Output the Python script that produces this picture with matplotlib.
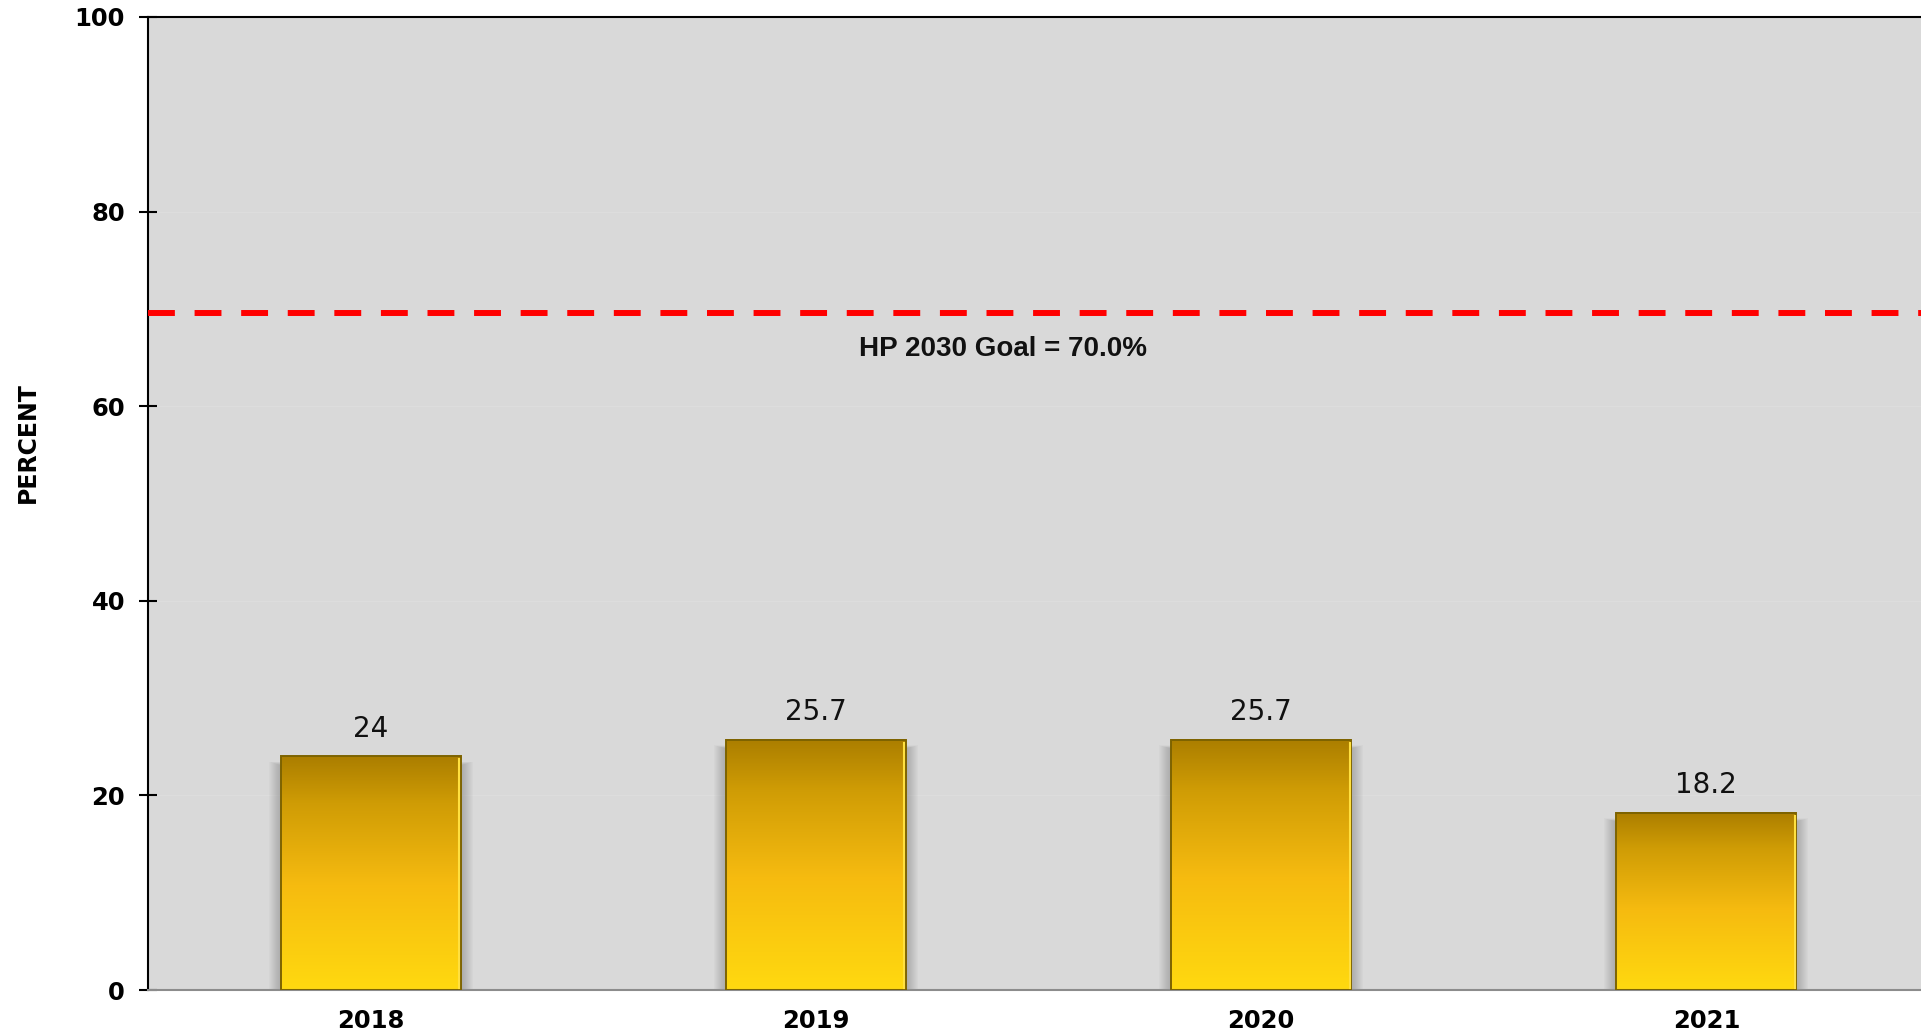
import numpy as np
import matplotlib
matplotlib.use("Agg")
import matplotlib.pyplot as plt
from matplotlib.colors import LinearSegmentedColormap
from matplotlib.patches import Rectangle

# chart data
years = ["2018", "2019", "2020", "2021"]
percents = [24, 25.7, 25.7, 18.2]
goal_value = 70.0
goal_line_y = 69.6   # where the dashed line sits in the picture

bar_width = 0.404

fig = plt.figure(figsize=(19.21, 10.36), dpi=100)
# axes run a little past the right edge of the image, like the original crop
ax = fig.add_axes([148 / 1921, 46 / 1036, (1929 - 148) / 1921, 973 / 1036])
ax.set_facecolor("#d9d9d9")

gold = LinearSegmentedColormap.from_list(
    "gold", [(0.0, "#ffd90f"), (0.45, "#f6bb10"), (0.8, "#cf9c05"), (1.0, "#ab7e00")])
grad = np.linspace(0, 1, 256).reshape(-1, 1)

px_x = 1 / 445.3      # one pixel in data units
px_y = 100 / 973

x = np.arange(len(years))
for xi, v in zip(x, percents):
    left = xi - bar_width / 2
    # soft grey shadow round the bar
    for e in range(12, 0, -1):
        ax.add_patch(Rectangle((left - e * px_x, 0), bar_width + 2 * e * px_x,
                               v - (9 - e * 0.3) * px_y, facecolor="#6e6e6e",
                               edgecolor="none", alpha=0.04, zorder=1.5))
    ax.imshow(grad, extent=[left, left + bar_width, 0, v], origin="lower",
              aspect="auto", cmap=gold, zorder=2, interpolation="bilinear")
    ax.add_patch(Rectangle((left, 0), bar_width, v, facecolor="none",
                           edgecolor="#7d6300", linewidth=1.4, zorder=3))
    # bright bevel on the right side
    ax.plot([left + bar_width - 1.5 * px_x] * 2, [0.2, v - 0.3], color="#ffe040",
            linewidth=1.5, zorder=3.5)
    ax.annotate(f"{v:g}", (xi, v), xytext=(0, 10), textcoords="offset points",
                ha="center", va="bottom", fontsize=20, color="#111111")

ax.set_xlim(-0.5, 3.5)
ax.set_ylim(0, 100)

ax.axhline(goal_line_y, color="#ff0000", linewidth=4.3, dashes=(4.5, 3.3), zorder=4)
ax.text(1.42, 65.9, f"HP 2030 Goal = {goal_value:.1f}%", ha="center", va="center",
        fontsize=20, fontweight="bold", family="Liberation Sans", color="#111111")

ax.set_yticks([0, 20, 40, 60, 80, 100])
ax.set_xticks(x)
ax.set_xticklabels(years)
ax.yaxis.grid(True, color="#dddddd", linewidth=1)
ax.set_axisbelow(True)
ax.tick_params(axis="y", direction="inout", length=13, width=1.5, pad=10,
               labelsize=17.5, colors="black")
ax.tick_params(axis="x", length=0, pad=14, labelsize=17.5)
for lab in ax.get_yticklabels() + ax.get_xticklabels():
    lab.set_fontweight("bold")

ax.spines["left"].set_linewidth(1.5)
ax.spines["top"].set_linewidth(1.5)
ax.spines["bottom"].set_color("#8c8c8c")
ax.spines["bottom"].set_linewidth(1.5)

fig.text(28 / 1921, 1 - 443 / 1036, "PERCENT", rotation=90, ha="center", va="center",
         fontsize=17, fontweight="bold")

fig.savefig("out.png", dpi=100)
